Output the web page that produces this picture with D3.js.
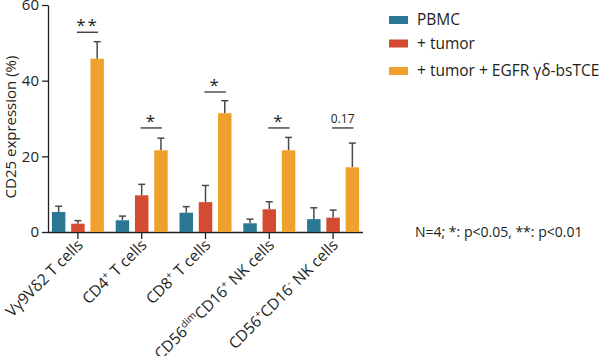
<!DOCTYPE html>
<html><head><meta charset="utf-8">
<script src="https://cdn.jsdelivr.net/npm/d3@7"></script>
<style>body{margin:0;background:#fff}text{font-family:"Open Sans",sans-serif;fill:#231f20}</style>
</head><body><svg id="c" width="600" height="356"></svg>
<script>
const categories = ["Vg9Vd2","CD4","CD8","CD56dim","CD56pos"];
const seriesNames = ["PBMC","+ tumor","+ tumor + EGFR γδ-bsTCE"];
const pbmc      = [5.3, 3.1, 5.1, 2.3, 3.4];
const pbmcErr   = [1.5, 1.1, 1.6, 1.1, 3.0];
const tumor     = [2.2, 9.7, 7.9, 6.0, 3.8];
const tumorErr  = [0.8, 2.9, 4.4, 2.0, 2.0];
const tce       = [45.8, 21.6, 31.4, 21.6, 17.1];
const tceErr    = [4.5, 3.2, 3.3, 3.4, 6.4];
const sigLabels = ["**","*","*","*","0.17"];
const sigLevels = [52.8, 27.5, 37.0, 27.5, 27.5];
const yTicks = [0,20,40,60];
const colors = ["#2a7896","#d44b31","#efa22b"];

const svg = d3.select("#c");
const y = d3.scaleLinear().domain([0,60]).range([232,5]);
const x = d3.scaleBand().domain(categories).range([46,365]);
const xs = d3.scaleBand().domain([0,1,2]).range([-26,26]).paddingInner(0.3);

// y axis
const ya = svg.append("g").attr("transform","translate(48,0)")
  .call(d3.axisLeft(y).tickValues(yTicks).tickSize(6).tickSizeOuter(0));
ya.select(".domain").attr("stroke","#231f20").attr("stroke-width",1.3);
ya.selectAll(".tick line").attr("stroke","#231f20").attr("stroke-width",1.3);
ya.selectAll(".tick text").style("font-size","15px").attr("x",-9).attr("fill","#231f20");

// x axis
const xa = svg.append("g").attr("transform","translate(0,232)")
  .call(d3.axisBottom(x).tickSize(7).tickSizeOuter(0).tickFormat(""));
xa.select(".domain").attr("d","M48,0.5H363").attr("stroke","#231f20").attr("stroke-width",1.3);
xa.selectAll(".tick line").attr("stroke","#231f20").attr("stroke-width",1.3);

const series = [[pbmc,pbmcErr],[tumor,tumorErr],[tce,tceErr]];
series.forEach(([vals,errs],si)=>{
  const g = svg.append("g");
  categories.forEach((c,i)=>{
    const cx = x(c)+x.bandwidth()/2 + xs(si) + xs.bandwidth()/2;
    const top = y(vals[i]), et = y(vals[i]+errs[i]);
    g.append("line").attr("x1",cx).attr("x2",cx).attr("y1",top).attr("y2",et)
      .attr("stroke","#4a4a4a").attr("stroke-width",1.5);
    g.append("line").attr("x1",cx-3.5).attr("x2",cx+3.5).attr("y1",et).attr("y2",et)
      .attr("stroke","#4a4a4a").attr("stroke-width",1.5);
    g.append("rect").attr("x",cx-xs.bandwidth()/2).attr("width",xs.bandwidth())
      .attr("y",top).attr("height",y(0)-top).attr("fill",colors[si]);
  });
});

// significance
categories.forEach((c,i)=>{
  const cx1 = x(c)+x.bandwidth()/2 + xs(1)+xs.bandwidth()/2 - 1;
  const cx2 = x(c)+x.bandwidth()/2 + xs(2)+xs.bandwidth()/2 + 1;
  const ly = y(sigLevels[i]);
  svg.append("line").attr("x1",cx1).attr("x2",cx2).attr("y1",ly).attr("y2",ly)
    .attr("stroke","#231f20").attr("stroke-width",1.2);
  const isP = sigLabels[i].indexOf("*")<0;
  svg.append("text").attr("x",(cx1+cx2)/2).attr("y", isP? ly-5 : ly-1)
    .attr("text-anchor","middle").style("font-size", isP?"12px":"17px")
    .style("letter-spacing", isP?"0":"2px")
    .text(sigLabels[i]);
});

// x labels
const labelParts = [
  [["Vγ9Vδ2 T cells",0]],
  [["CD4",0],["+",1],[" T cells",0]],
  [["CD8",0],["+",1],[" T cells",0]],
  [["CD56",0],["dim",1],["CD16",0],["+",1],[" NK cells",0]],
  [["CD56",0],["+",1],["CD16",0],["-",1],[" NK cells",0]]
];
categories.forEach((c,i)=>{
  const cx = x(c)+x.bandwidth()/2;
  const t = svg.append("text").attr("transform",`translate(${cx+6},${246}) rotate(-45)`)
    .attr("text-anchor","end").style("font-size","15.5px");
  labelParts[i].forEach(([s,sup],k)=>{
    const ts = t.append("tspan").text(s);
    if(sup){ ts.style("font-size","10px").attr("dy",-6); }
    else if(k>0 && labelParts[i][k-1][1]){ ts.attr("dy",6); }
  });
});

// y label
svg.append("text").attr("transform","translate(16,127) rotate(-90)")
  .attr("text-anchor","middle").style("font-size","15px").text("CD25 expression (%)");

// legend
const legY = [20, 43.5, 71];
seriesNames.forEach((n,i)=>{
  svg.append("rect").attr("x",389).attr("y",legY[i]-4).attr("width",19).attr("height",8).attr("fill",colors[i]);
  svg.append("text").attr("x",417).attr("y",legY[i]).attr("dy","0.35em")
    .style("font-size","15.5px").text(n);
});

svg.append("text").attr("x",415).attr("y",232).attr("dy","0.35em")
  .style("font-size","14px").text("N=4; *: p<0.05, **: p<0.01");
</script></body></html>
